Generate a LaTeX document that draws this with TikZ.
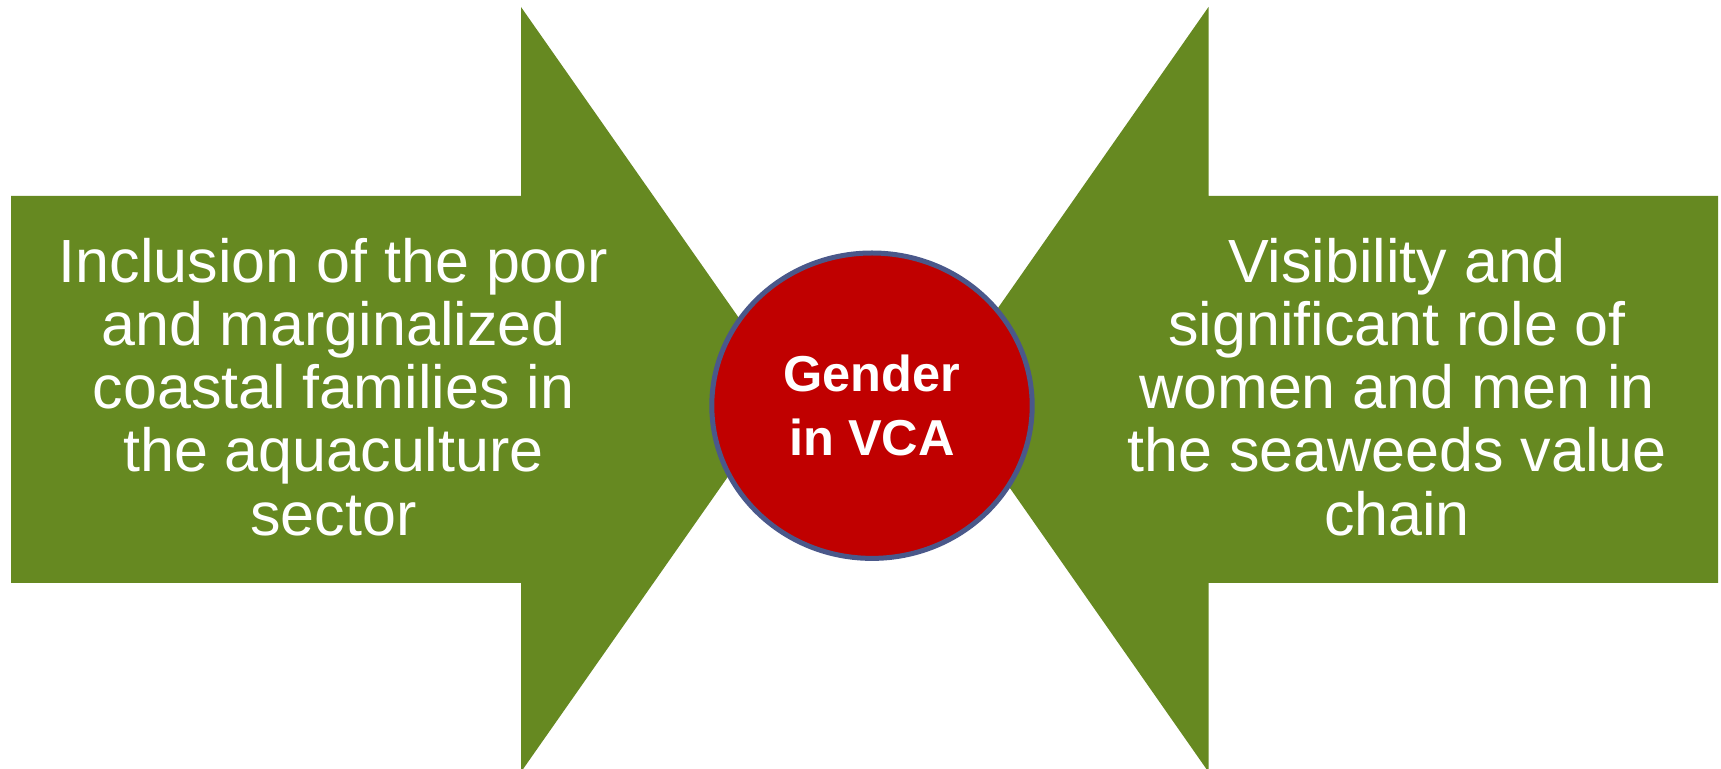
\documentclass[tikz,border=0pt]{standalone}
\usepackage{fontspec}
\setmainfont{Liberation Sans}
\usetikzlibrary{shapes.geometric}
\definecolor{arrowgreen}{RGB}{102,137,33}
\definecolor{circred}{RGB}{192,0,0}
\definecolor{circedge}{RGB}{74,88,138}
\tikzset{
  arrowshape/.style={fill=arrowgreen, draw=none},
  bodytext/.style={text=white, align=center, inner sep=0pt, font=\fontsize{30.5pt}{31.6pt}\selectfont},
  hubstyle/.style={ellipse, inner sep=0pt, fill=circred, draw=circedge, line width=2.5pt,
    minimum width=160.2pt, minimum height=152.7pt,
    text=white, align=center, font=\bfseries\fontsize{25.25pt}{32pt}\selectfont}
}
\begin{document}
\begin{tikzpicture}[x=0.5pt,y=-0.5pt]
\useasboundingbox[fill=white] (0,0) rectangle (1721,769);
% left arrow
\fill[arrowshape] (11,196) -- (521,196) -- (521,7) -- (789,389.5) -- (521,772) -- (521,583) -- (11,583) -- cycle;
% right arrow
\fill[arrowshape] (1718,196) -- (1208.5,196) -- (1208.5,7) -- (941,389.5) -- (1208.5,772) -- (1208.5,583) -- (1718,583) -- cycle;
% hub
\node[hubstyle] (hub) at (872,405.7) {Gender\\in VCA};
\node[bodytext] (left) at (333.5,387) {Inclusion of the poor\\and marginalized\\coastal families in\\the aquaculture\\sector};
\node[bodytext] (right) at (1397,387) {Visibility and\\significant role of\\women and men in\\the seaweeds value\\chain};
\end{tikzpicture}
\end{document}
